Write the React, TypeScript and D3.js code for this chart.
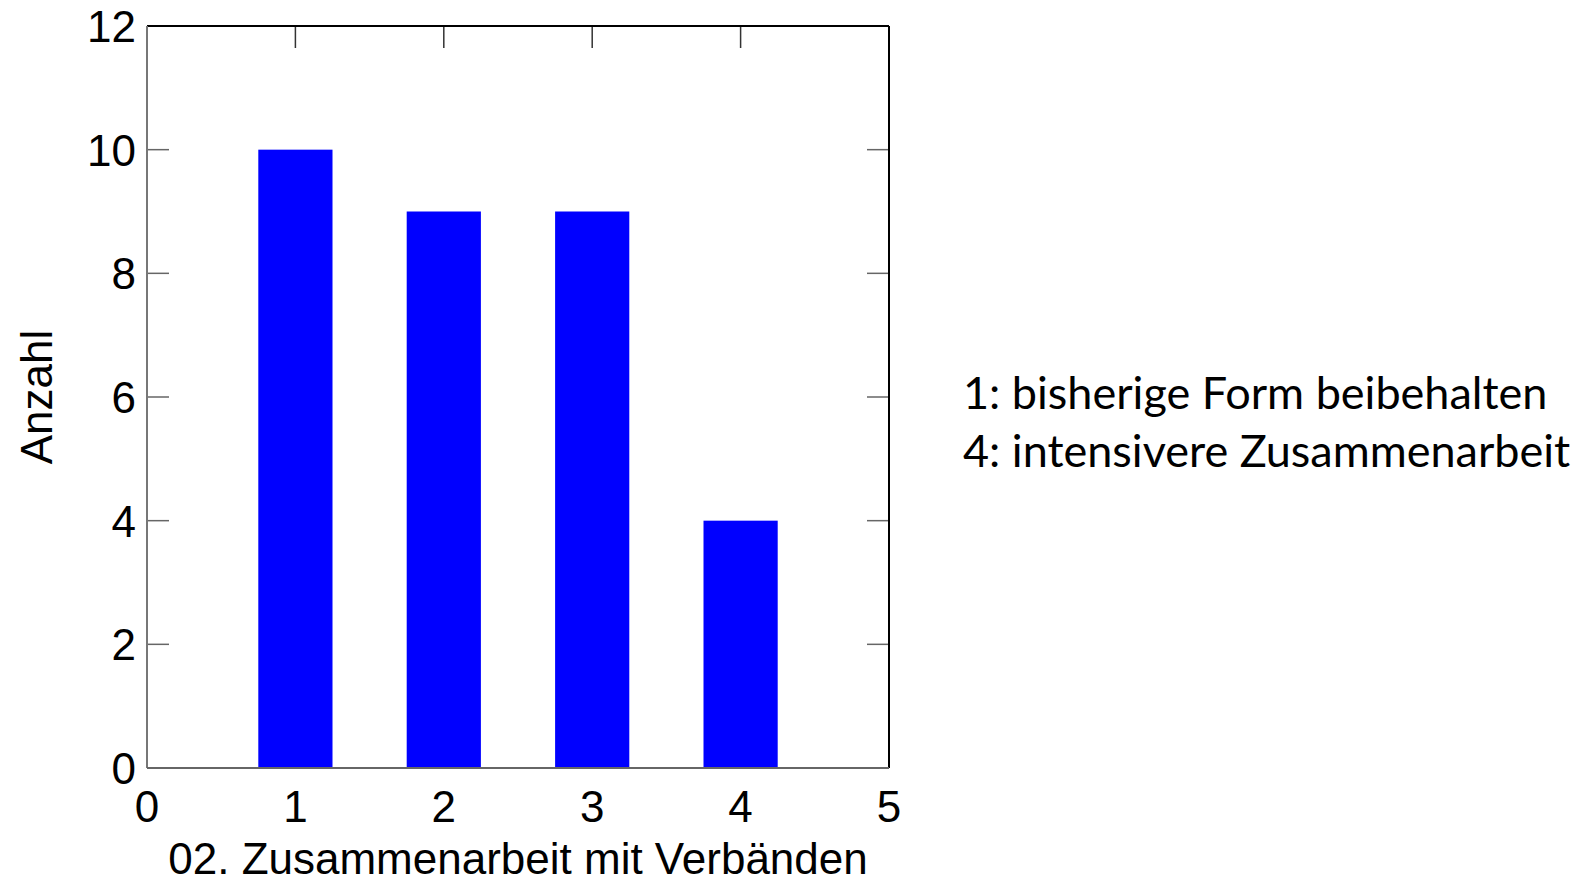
import React from "react";
import { scaleLinear } from "d3";

// values
const categories = [1, 2, 3, 4];
const counts = [10, 9, 9, 4];
const xTicks = [0, 1, 2, 3, 4, 5];
const yTicks = [0, 2, 4, 6, 8, 10, 12];
const legendLines = ["1: bisherige Form beibehalten", "4: intensivere Zusammenarbeit"];

const App: React.FC = () => {
  const width = 1582;
  const height = 881;
  const margin = { left: 147, right: 889, top: 26, bottom: 768 };
  const tickLen = 22;

  const xScale = scaleLinear().domain([0, 5]).range([margin.left, margin.right]);
  const yScale = scaleLinear().domain([0, 12]).range([margin.bottom, margin.top]);
  const barW = xScale(0.5) - xScale(0);

  const font = "'Liberation Sans', Arial, sans-serif";
  const fs = 44;

  return (
    <svg
      width={width}
      height={height}
      style={{ position: "absolute", left: 0, top: 0, background: "white" }}
    >
      {/* bars */}
      {categories.map((c, i) => (
        <rect
          key={`bar ${c}`}
          x={xScale(c) - barW / 2}
          y={yScale(counts[i])}
          width={barW}
          height={yScale(0) - yScale(counts[i])}
          fill="#0000ff"
        />
      ))}

      {/* y ticks left + right */}
      {yTicks.map((t) => (
        <g key={`yt ${t}`}>
          <line x1={margin.left} x2={margin.left + tickLen} y1={yScale(t)} y2={yScale(t)} stroke="#666" strokeWidth={1.5} />
          <line x1={margin.right - tickLen} x2={margin.right} y1={yScale(t)} y2={yScale(t)} stroke="#666" strokeWidth={1.5} />
          <text x={136} y={yScale(t)} dy="0.36em" textAnchor="end" fontFamily={font} fontSize={fs} fill="#000">
            {t}
          </text>
        </g>
      ))}

      {/* x ticks top (bottom ones sit under the bars) */}
      {xTicks.map((t) => (
        <g key={`xt ${t}`}>
          <line x1={xScale(t)} x2={xScale(t)} y1={margin.top} y2={margin.top + tickLen} stroke="#333" strokeWidth={1.5} />
          <text x={xScale(t)} y={822} textAnchor="middle" fontFamily={font} fontSize={fs} fill="#000">
            {t}
          </text>
        </g>
      ))}

      {/* frame */}
      <line x1={margin.left} x2={margin.right} y1={margin.top} y2={margin.top} stroke="#000" strokeWidth={2} />
      <line x1={margin.right} x2={margin.right} y1={margin.top} y2={margin.bottom} stroke="#000" strokeWidth={2} />
      <line x1={margin.left} x2={margin.left} y1={margin.top} y2={margin.bottom} stroke="#777" strokeWidth={2} />
      <line x1={margin.left} x2={margin.right} y1={margin.bottom} y2={margin.bottom} stroke="#666" strokeWidth={2} />

      {/* axis titles */}
      <text
        transform={`translate(52, ${(margin.top + margin.bottom) / 2}) rotate(-90)`}
        textAnchor="middle"
        fontFamily={font}
        fontSize={fs}
        fill="#000"
      >
        Anzahl
      </text>
      <text x={(margin.left + margin.right) / 2} y={874} textAnchor="middle" fontFamily={font} fontSize={fs} fill="#000">
        02. Zusammenarbeit mit Verbänden
      </text>

      {/* legend note */}
      {legendLines.map((l, i) => (
        <text key={l} x={963} y={409 + i * 58} fontFamily="Lato, 'Open Sans', sans-serif" fontSize={45} fill="#000">
          {l}
        </text>
      ))}
    </svg>
  );
};

export default App;
